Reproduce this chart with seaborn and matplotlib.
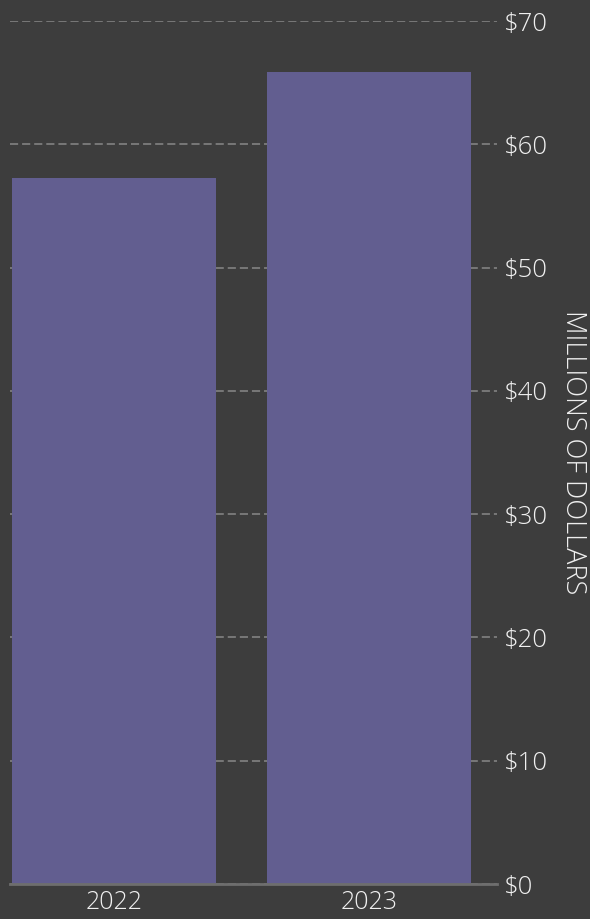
import matplotlib
matplotlib.use("Agg")
import matplotlib.pyplot as plt
import seaborn as sns
import pandas as pd
from matplotlib.ticker import FuncFormatter, MultipleLocator

# Annual totals, millions of dollars
years = ["2022", "2023"]
totals = [57.3, 65.9]

BG = "#3d3d3d"
BAR = "#625e90"
GRID = "#7d7d7d"
TEXT = "#f0f0f0"

sns.set_theme(style="dark")
plt.rcParams["font.family"] = ["Open Sans", "DejaVu Sans"]

df = pd.DataFrame({"year": years, "total": totals})

fig = plt.figure(figsize=(5.9, 9.19), dpi=100, facecolor=BG)
ax = fig.add_axes([10 / 590, 1 - 884 / 919, 487 / 590, 863 / 919])
ax.set_facecolor(BG)

sns.barplot(data=df, x="year", y="total", color=BAR, width=0.8,
            saturation=1, linewidth=0, edgecolor="none", ax=ax, zorder=3)

ax.set_ylim(0, 70)
ax.set_xlim(-0.408, 1.502)
ax.yaxis.set_major_locator(MultipleLocator(10))
ax.yaxis.set_major_formatter(FuncFormatter(lambda v, _: f"${v:.0f}"))
ax.yaxis.tick_right()
ax.yaxis.set_label_position("right")

ax.grid(axis="y", color=GRID, linewidth=1.3, linestyle=(0, (4.5, 2.2)), zorder=1)
ax.grid(axis="x", visible=False)

for side in ["top", "left", "right"]:
    ax.spines[side].set_visible(False)
ax.spines["bottom"].set_color("#6e6e6e")
ax.spines["bottom"].set_linewidth(2)
ax.spines["bottom"].set_zorder(4)

ax.tick_params(axis="y", length=0, pad=5, labelsize=18.5, labelcolor=TEXT)
ax.tick_params(axis="x", length=0, pad=4, labelsize=18, labelcolor=TEXT)
for lab in ax.get_xticklabels() + ax.get_yticklabels():
    lab.set_fontweight(300)

ax.set_xlabel("")
ax.set_ylabel("MILLIONS OF DOLLARS", rotation=270, labelpad=28,
              fontsize=19.5, color=TEXT, fontweight=300)

fig.savefig("out.png", dpi=100, facecolor=BG)
